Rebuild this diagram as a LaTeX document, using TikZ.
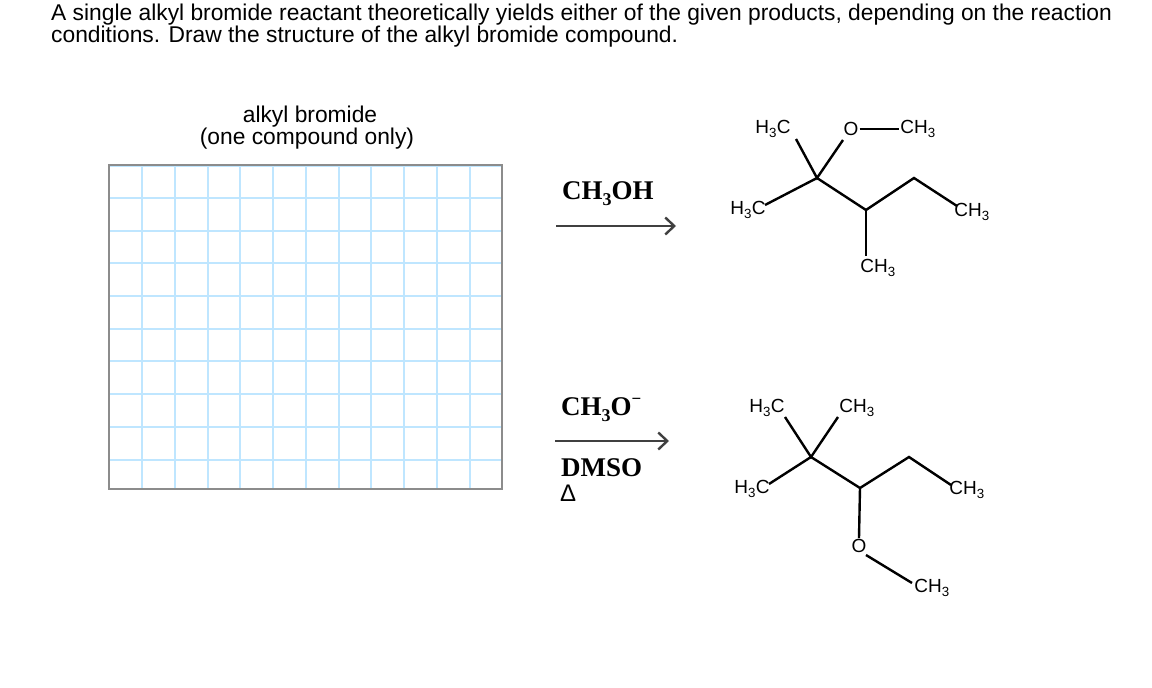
\documentclass[tikz,border=0pt]{standalone}
\usepackage{fontspec}
\setmainfont{Liberation Sans}
\newfontfamily\serifb{Liberation Serif}
\usetikzlibrary{arrows.meta}
\newcommand{\sbt}[1]{\textsubscript{#1}}
\begin{document}
\begin{tikzpicture}[x=1pt,y=-1pt,
  txt/.style={inner sep=0pt,font=\fontsize{22.8}{20}\selectfont},
  atom/.style={inner sep=1pt,font=\fontsize{19}{19}\selectfont},
  reag/.style={inner sep=0pt,font=\serifb\bfseries\fontsize{27}{27}\selectfont},
  bond/.style={line width=2.4pt},
  rxn/.style={draw=black!75,line width=2.4pt,-{Straight Barb[length=9pt,width=17pt,line width=2.4pt]}},
  gridl/.style={draw=blue!40!cyan!25!white,line width=1.4pt}]
\useasboundingbox (0,0) rectangle (1152,688);
\node[txt,anchor=west] (t1) at (51,15) {A single alkyl bromide reactant theoretically yields either of the given products, depending on the reaction};
\node[txt,anchor=west] (t2) at (51,37) {conditions. Draw the structure of the alkyl bromide compound.};
\node[txt] (l1) at (310,117) {alkyl bromide};
\node[txt] (l2) at (307,139) {(one compound only)};
% grid
\foreach \x in {142,175,208,240,273,306,339,371,404,437,470} \draw[gridl] (\x,165) -- (\x,489);
\foreach \y in {198,231,263,296,329,361,394,427,460} \draw[gridl] (109,\y) -- (502,\y);
\draw[gridl] (109,166) -- (502,166);
\draw[black!45,line width=1.8pt] (109,165) rectangle (502,489);
% arrows
\coordinate (a1s) at (556,226); \coordinate (a1e) at (676,226);
\draw[rxn] (a1s) -- (a1e);
\node[reag,anchor=west] (r1) at (562,194) {CH\raisebox{-6pt}{\fontsize{18}{18}\selectfont 3}OH};
\coordinate (a2s) at (555,441); \coordinate (a2e) at (669,441);
\draw[rxn] (a2s) -- (a2e);
\node[reag,anchor=west] (r2) at (561,410) {CH\raisebox{-6pt}{\fontsize{18}{18}\selectfont 3}O\raisebox{11pt}{\fontsize{17}{17}\selectfont\textminus}};
\node[reag,anchor=west] (r3) at (561,468) {DMSO};
\node[atom,anchor=west,font=\fontsize{24}{24}\selectfont] (r4) at (559,493) {Δ};
% product 1
\node[atom] (p1a) at (773,129) {H\sbt{3}C};
\node[atom] (p1o) at (851,129) {O};
\node[atom] (p1m) at (918,129) {CH\sbt{3}};
\node[atom] (p1b) at (748,210) {H\sbt{3}C};
\node[atom] (p1d) at (878,268) {CH\sbt{3}};
\node[atom] (p1e) at (972,212) {CH\sbt{3}};
\coordinate (p1c2) at (817,178); \coordinate (p1c3) at (866,210); \coordinate (p1c4) at (914,178);
\draw[bond] (796,139) -- (p1c2) -- (843,140);
\draw[bond] (p1o.east) -- (p1m.west);
\draw[bond] (765,205) -- (p1c2) -- (p1c3) -- (p1c4) -- (957,206);
\draw[bond] (p1c3) -- (866,256);
% product 2
\node[atom] (p2a) at (767,408) {H\sbt{3}C};
\node[atom] (p2b) at (857,408) {CH\sbt{3}};
\node[atom] (p2c) at (752,489) {H\sbt{3}C};
\node[atom] (p2d) at (967,490) {CH\sbt{3}};
\node[atom] (p2o) at (859,546) {O};
\node[atom] (p2m) at (932,588) {CH\sbt{3}};
\coordinate (p2c2) at (811,457); \coordinate (p2c3) at (860,488); \coordinate (p2c4) at (909,457);
\draw[bond] (785,417) -- (p2c2) -- (838,417);
\draw[bond] (769,484) -- (p2c2) -- (p2c3) -- (p2c4) -- (951,485);
\draw[bond] (p2c3) -- (p2o.north);
\draw[bond] (866,555) -- (912,583);
\end{tikzpicture}
\end{document}
